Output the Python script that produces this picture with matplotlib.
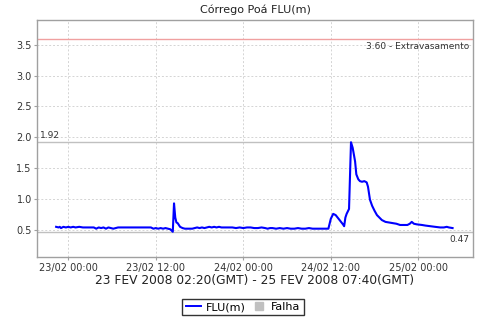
import matplotlib
matplotlib.use("Agg")
import matplotlib.pyplot as plt
import matplotlib.dates as mdates
from matplotlib.lines import Line2D
from datetime import datetime, timedelta

# hours relative to 23/02/2008 00:00 (axis time)
hours = [-1.67, -1.33, -1.17, -1.0, -0.67, -0.33, 0.0, 0.33, 0.67, 1.0, 1.5, 2.0, 2.5, 3.0,
         3.5, 3.83, 4.17, 4.5, 4.83, 5.17, 5.5, 5.83, 6.17, 6.5, 6.83, 7.5, 8.5, 9.5, 10.5,
         11.33, 11.67, 12.0, 12.33, 12.67, 13.0, 13.33, 13.67, 14.0, 14.33, 14.5, 14.67,
         14.83, 15.0, 15.17, 15.33, 15.67, 16.0, 16.5, 17.0, 17.33, 17.67, 18.0, 18.33,
         18.67, 19.0, 19.33, 19.67, 20.0, 20.33, 20.67, 21.0, 21.5, 22.0, 22.5, 23.0, 23.5,
         24.0, 24.5, 25.0, 25.5, 26.0, 26.5, 27.0, 27.33, 27.67, 28.0, 28.5, 29.0, 29.5,
         30.0, 30.5, 31.0, 31.5, 32.0, 32.5, 33.0, 33.5, 34.0, 34.5, 35.0, 35.5, 35.67,
         36.0, 36.33, 36.67, 37.0, 37.33, 37.67, 37.83, 38.0, 38.17, 38.5, 38.77, 39.0,
         39.17, 39.33, 39.5, 39.77, 40.0, 40.28, 40.6, 40.92, 41.1, 41.37, 41.67, 42.0,
         42.33, 42.67, 43.0, 43.5, 44.0, 44.5, 45.0, 45.5, 46.0, 46.5, 46.83, 47.1, 47.4,
         47.8, 48.5, 49.0, 49.6, 50.3, 51.0, 51.5, 51.9, 52.2, 52.7]
flu = [0.55, 0.54, 0.55, 0.53, 0.55, 0.54, 0.55, 0.54, 0.55, 0.54, 0.55, 0.54, 0.54, 0.54,
       0.54, 0.52, 0.54, 0.53, 0.54, 0.52, 0.54, 0.53, 0.52, 0.53, 0.54, 0.54, 0.54, 0.54, 0.54,
       0.54, 0.52, 0.53, 0.52, 0.53, 0.52, 0.53, 0.52, 0.51, 0.47, 0.93, 0.70,
       0.62, 0.61, 0.58, 0.55, 0.53, 0.52, 0.52, 0.52, 0.53, 0.54, 0.53, 0.54,
       0.53, 0.54, 0.55, 0.54, 0.55, 0.54, 0.55, 0.54, 0.54, 0.54, 0.54, 0.53, 0.54,
       0.53, 0.54, 0.54, 0.53, 0.53, 0.54, 0.53, 0.52, 0.53, 0.53, 0.52, 0.53, 0.52,
       0.53, 0.52, 0.52, 0.53, 0.52, 0.52, 0.53, 0.52, 0.52, 0.52, 0.52, 0.52, 0.52,
       0.68, 0.76, 0.74, 0.69, 0.64, 0.59, 0.56, 0.70, 0.76, 0.84, 1.92, 1.83,
       1.72, 1.61, 1.40, 1.32, 1.29, 1.28, 1.29, 1.27, 1.20, 0.99, 0.89, 0.81,
       0.74, 0.70, 0.66, 0.63, 0.62, 0.61, 0.60, 0.58, 0.58, 0.58, 0.60, 0.63, 0.60,
       0.59, 0.58, 0.57, 0.56, 0.55, 0.54, 0.54, 0.55, 0.54, 0.53]

ref_levels = [3.60, 1.92, 0.47]
ref_labels = ["3.60 - Extravasamento", "1.92", "0.47"]
yticks = [0.5, 1.0, 1.5, 2.0, 2.5, 3.0, 3.5]
title = "Córrego Poá FLU(m)"
xlabel = "23 FEV 2008 02:20(GMT) - 25 FEV 2008 07:40(GMT)"

base = datetime(2008, 2, 23)
times = [base + timedelta(hours=h) for h in hours]

fig = plt.figure(figsize=(4.8, 3.2), dpi=100)
ax = fig.add_axes([0.0777, 0.197, 0.9071, 0.7405])

ax.set_xlim(base + timedelta(hours=-4.25), base + timedelta(hours=55.46))
ax.set_ylim(0.062, 3.90)

ax.grid(True, color="#d4d4d4", linestyle=(0, (2, 2)), linewidth=0.7)
ax.set_axisbelow(True)

ax.axhline(ref_levels[0], color="#f0a0a0", lw=1.0, zorder=2)
ax.axhline(ref_levels[1], color="#c0c0c0", lw=1.0, zorder=2)
ax.axhline(ref_levels[2], color="#c0c0c0", lw=1.0, zorder=2)

ax.plot(times, flu, color="#0000ff", lw=1.5, zorder=3)

tr = ax.get_yaxis_transform()
ax.text(0.992, ref_levels[0] - 0.06, ref_labels[0], transform=tr, ha="right", va="top",
        fontsize=6.5, color="#333333")
ax.text(0.006, ref_levels[1] + 0.04, ref_labels[1], transform=tr, ha="left", va="bottom",
        fontsize=6.5, color="#333333")
ax.text(0.992, ref_levels[2] - 0.06, ref_labels[2], transform=tr, ha="right", va="top",
        fontsize=6.5, color="#333333")

ax.xaxis.set_major_locator(mdates.HourLocator(byhour=[0, 12]))
ax.xaxis.set_major_formatter(mdates.DateFormatter("%d/%m %H:%M"))
ax.set_yticks(yticks)
ax.set_yticklabels([f"{v:.1f}" for v in yticks])

for s in ax.spines.values():
    s.set_color("#a0a0a0")
    s.set_linewidth(1.0)
ax.tick_params(axis="both", labelsize=7, colors="#a0a0a0", labelcolor="#333333",
               length=2, width=0.8, pad=2)

ax.set_title(title, fontsize=8, color="#222222", pad=5)
ax.set_xlabel(xlabel, fontsize=8.8, color="#222222", labelpad=1)

handles = [Line2D([0], [0], color="#0000ff", lw=1.4),
           Line2D([0], [0], marker="s", color="none", markerfacecolor="#c0c0c0",
                  markeredgecolor="#c0c0c0", markersize=6)]
leg = fig.legend(handles, ["FLU(m)", "Falha"], loc="center", ncol=2,
                 bbox_to_anchor=(243 / 480, 1 - 307 / 320), fontsize=8,
                 frameon=True, fancybox=False, handlelength=1.4, handletextpad=0.4,
                 columnspacing=0.5, borderpad=0.3, borderaxespad=0)
leg.get_frame().set_edgecolor("black")
leg.get_frame().set_linewidth(1.0)

fig.savefig("out.png", dpi=100)
